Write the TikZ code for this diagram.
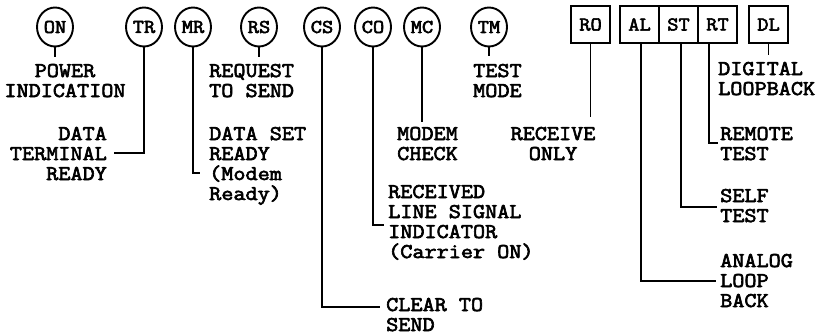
\documentclass[tikz,border=0pt]{standalone}
\usepackage{fontspec}
\usetikzlibrary{shapes.geometric}
\newfontfamily\tw{Latin Modern Mono}[FakeBold=3,FakeStretch=1.12]
\newcommand{\txtfont}{\tw\fontsize{21}{20}\selectfont}
\newcommand{\labfont}{\tw\fontsize{19.5}{19.5}\selectfont}
\begin{document}
\begin{tikzpicture}[x=1pt,y=-1pt,
  sig/.style={draw, line width=1.9pt, ellipse, minimum width=36pt, minimum height=39pt, inner sep=0pt, font=\labfont},
  sw/.style={draw, line width=2pt, rectangle, minimum width=39pt, minimum height=37pt, inner sep=0pt, font=\labfont},
  conn/.style={line width=1.2pt},
  txt/.style={font=\txtfont, inner sep=0pt, align=left, anchor=base west},
  ctxt/.style={font=\txtfont, inner sep=0pt, align=center, anchor=base},
  rtxt/.style={font=\txtfont, inner sep=0pt, align=right, anchor=base east}]
\useasboundingbox[fill=white] (0,0) rectangle (826,335);
% indicator lamps
\node[sig] (ON) at (55,27) {ON};
\node[sig] (TR) at (144,27) {TR};
\node[sig] (MR) at (193,27) {MR};
\node[sig] (RS) at (259,27) {RS};
\node[sig] (CS) at (322,27) {CS};
\node[sig] (CO) at (373,27) {CO};
\node[sig] (MC) at (422,27) {MC};
\node[sig] (TM) at (489,27) {TM};
% switches
\node[sw] (RO) at (590.5,24.5) {RO};
\node[sw] (AL) at (639.5,24.5) {AL};
\node[sw] (ST) at (678.5,24.5) {ST};
\node[sw] (RT) at (717.5,24.5) {RT};
\node[sw] (DL) at (768.5,24.5) {DL};
% labels (anchor = baseline of the last line)
\node[ctxt] (onlab) at (65,97) {POWER\\INDICATION};
\node[rtxt] (trlab) at (107,180) {DATA\\TERMINAL\\READY};
\node[txt] (mrlab) at (209,200) {DATA SET\\READY\\(Modem\\Ready)};
\node[txt] (rslab) at (209,97) {REQUEST\\TO SEND};
\node[txt] (cslab) at (386,331) {CLEAR TO\\SEND};
\node[txt] (colab) at (388,258) {RECEIVED\\LINE SIGNAL\\INDICATOR\\(Carrier ON)};
\node[txt] (mclab) at (397,160) {MODEM\\CHECK};
\node[txt] (tmlab) at (473,97) {TEST\\MODE};
\node[ctxt] (rolab) at (553,160) {RECEIVE\\ONLY};
\node[txt] (rtlab) at (720,160) {REMOTE\\TEST};
\node[txt] (stlab) at (720,222) {SELF\\TEST};
\node[txt] (allab) at (720,307) {ANALOG\\LOOP\\BACK};
\node[txt] (dllab) at (718,95) {DIGITAL\\LOOPBACK};
% connector ends
\coordinate (onj) at (55,57);
\coordinate (trj) at (114,153);
\coordinate (mrj) at (200,173);
\coordinate (rsj) at (259,57);
\coordinate (csj) at (380,307);
\coordinate (coj) at (384,225);
\coordinate (mcj) at (422,122);
\coordinate (tmj) at (489,56);
\coordinate (roj) at (590.5,117);
\coordinate (alj) at (716,281);
\coordinate (stj) at (717,207);
\coordinate (rtj) at (718,143);
\coordinate (dlj) at (768.5,55);
% connectors
\draw[conn] (ON.south) -- (onj);
\draw[conn] (TR.south) |- (trj);
\draw[conn] (MR.south) |- (mrj);
\draw[conn] (RS.south) -- (rsj);
\draw[conn] (CS.south) |- (csj);
\draw[conn] (CO.south) |- (coj);
\draw[conn] (MC.south) -- (mcj);
\draw[conn] (TM.south) -- (tmj);
\draw[conn] (RO.south) -- (roj);
\draw[conn] ([xshift=1.5pt]AL.south) |- (alj);
\draw[conn] ([xshift=2.5pt]ST.south) |- (stj);
\draw[conn] ([xshift=-8.5pt]RT.south) |- (rtj);
\draw[conn] (DL.south) -- (dlj);
\end{tikzpicture}
\end{document}
